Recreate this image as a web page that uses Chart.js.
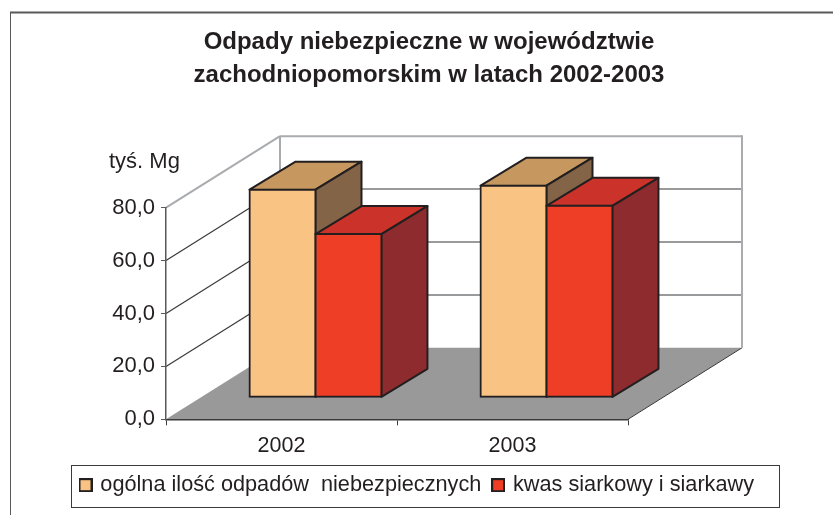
<!DOCTYPE html>
<html><head><meta charset="utf-8">
<style>html,body{margin:0;padding:0;background:#fff}#w{width:833px;height:515px;position:relative}</style>
<script src="https://cdn.jsdelivr.net/npm/chart.js@4/dist/chart.umd.min.js"></script>
</head><body><div id="w"><canvas id="c" width="833" height="515"></canvas></div>
<script>
const categories = ['2002', '2003'];
const totalHazardous = [78.5, 80.0];
const sulfuricAcid = [61.7, 72.4];
const seriesNames = ['ogólna ilość odpadów  niebezpiecznych', 'kwas siarkowy i siarkawy'];
const titleLines = ['Odpady niebezpieczne w województwie', 'zachodniopomorskim w latach 2002-2003'];
const unitLabel = 'tyś. Mg';

const FONT = '"Liberation Sans", Arial, sans-serif';
const INK = '#231f20';
const AREA = {left:166, right:628, top:207.7, bottom:419.3};
const WALL = {dx:114, dy:-71.5};
const BAR_OFF = {dx:34, dy:-22};
const BAR_DEPTH = {dx:46, dy:-28};
const FRONTS = ['#f8c383', '#ef3e26'];
const SHADES = [{top:'#c6975f', side:'#836446'}, {top:'#cb332a', side:'#8e2b2e'}];

function line(ctx, x1, y1, x2, y2, color, w){
  ctx.strokeStyle = color; ctx.lineWidth = w;
  ctx.beginPath(); ctx.moveTo(x1,y1); ctx.lineTo(x2,y2); ctx.stroke();
}
function poly(ctx, pts, fill){
  ctx.beginPath(); pts.forEach((p,i)=> i?ctx.lineTo(p[0],p[1]):ctx.moveTo(p[0],p[1])); ctx.closePath();
  ctx.fillStyle = fill; ctx.fill();
  ctx.strokeStyle = INK; ctx.lineWidth = 2; ctx.lineJoin = 'round'; ctx.stroke();
}
function swatch(color){
  const k = document.createElement('canvas'); k.width = 14; k.height = 14;
  const g = k.getContext('2d');
  g.fillStyle = color; g.fillRect(1,1,12,12);
  g.strokeStyle = INK; g.lineWidth = 2; g.strokeRect(1,1,12,12);
  return k;
}
const scene = {
  id:'scene',
  afterLayout(chart){
    const t = chart.titleBlock; t.left = 0; t.right = 858; t.width = 858;
    const l = chart.legend; l.left = 68.7; l.right = 779; l.width = 710.3;
    const h = l.height; l.top = 461.5; l.bottom = l.top + h;
  },
  beforeDraw(chart){
    const ctx = chart.ctx, y = chart.scales.y, x = chart.scales.x;
    ctx.save();
    ctx.fillStyle = '#fff'; ctx.fillRect(0,0,833,515);
    line(ctx, 10.5, 12, 10.5, 515, '#58595b', 1);
    line(ctx, 10, 12.5, 833, 12.5, '#58595b', 2);
    ctx.strokeStyle = '#3a3a3c'; ctx.lineWidth = 1;
    ctx.strokeRect(71.5, 465.5, 708, 42);
    const l = x.left, r = x.right, b = y.getPixelForValue(0), {dx, dy} = WALL;
    ctx.beginPath(); ctx.moveTo(l,b); ctx.lineTo(r,b); ctx.lineTo(r+dx,b+dy); ctx.lineTo(l+dx,b+dy); ctx.closePath();
    ctx.fillStyle = '#999999'; ctx.fill();
    line(ctx, r, b, r+dx, b+dy, '#3a3a3c', 1);
    y.ticks.forEach(t=>{
      const py = y.getPixelForValue(t.value);
      if (t.value === 0) return;
      const top = t.value === y.max;
      line(ctx, l, py, l+dx, py+dy, top?'#a9abae':'#3a3a3c', top?2:1.2);
      line(ctx, l+dx, py+dy, r+dx, py+dy, top?'#a9abae':'#77787b', top?2:1.5);
    });
    line(ctx, l+dx, y.getPixelForValue(y.max)+dy, l+dx, b+dy, '#a9abae', 2);
    line(ctx, r+dx, y.getPixelForValue(y.max)+dy-1, r+dx, b+dy, '#a9abae', 2);
    ctx.fillStyle = INK; ctx.font = '22px '+FONT; ctx.textAlign = 'left'; ctx.textBaseline = 'middle';
    ctx.fillText(unitLabel, 109, 162);
    ctx.restore();
  },
  beforeDatasetDraw(){ return false; },
  afterDatasetsDraw(chart){
    const ctx = chart.ctx;
    [0,1].forEach(i=>{
      const meta = chart.getDatasetMeta(i);
      ctx.save();
      meta.data.forEach(el=>{
        const a = el.x - el.width/2 + BAR_OFF.dx, c = el.x + el.width/2 + BAR_OFF.dx;
        const t = el.y + BAR_OFF.dy, b = el.base + BAR_OFF.dy, {dx, dy} = BAR_DEPTH;
        poly(ctx, [[a,t],[c,t],[c+dx,t+dy],[a+dx,t+dy]], SHADES[i].top);
        poly(ctx, [[c,t],[c+dx,t+dy],[c+dx,b+dy],[c,b]], SHADES[i].side);
      });
      ctx.translate(BAR_OFF.dx, BAR_OFF.dy);
      meta.controller.draw();
      ctx.restore();
    });
  }
};
new Chart(document.getElementById('c'), {
  type:'bar',
  data:{labels:categories, datasets:[
    {label:seriesNames[0], data:totalHazardous, backgroundColor:FRONTS[0], borderColor:INK, borderWidth:2, borderSkipped:false, inflateAmount:1},
    {label:seriesNames[1], data:sulfuricAcid, backgroundColor:FRONTS[1], borderColor:INK, borderWidth:2, borderSkipped:false, inflateAmount:1}
  ]},
  plugins:[scene],
  options:{
    responsive:false, animation:false,
    categoryPercentage:0.571, barPercentage:1,
    layout:{padding:0},
    plugins:{
      tooltip:{enabled:false},
      title:{display:true, text:titleLines, color:INK,
        font:{family:FONT, size:24, weight:'bold', lineHeight:'33px'},
        padding:{top:26, bottom:AREA.top-26-66}},
      legend:{display:true, position:'bottom', align:'start',
        labels:{color:INK, font:{family:FONT, size:21.7}, usePointStyle:true, pointStyleWidth:8, boxHeight:13, padding:12.8,
          generateLabels(chart){
            return Chart.defaults.plugins.legend.labels.generateLabels(chart).map((it,i)=>({...it, pointStyle:swatch(FRONTS[i])}));
          }}}
    },
    scales:{
      x:{offset:true,
        grid:{drawOnChartArea:false, drawTicks:true, tickLength:6, color:'#3a3a3c', offset:true},
        border:{color:'#3a3a3c', width:1.5},
        ticks:{color:INK, font:{family:FONT, size:21.5}, padding:8, maxRotation:0},
        afterFit(s){ s.height = 515 - AREA.bottom - s.chart.legend.height; }},
      y:{min:0, max:80, position:'left',
        grid:{drawOnChartArea:false, drawTicks:true, tickLength:5, color:'#58595b'},
        border:{color:'#58595b', width:1.5},
        ticks:{stepSize:20, color:INK, font:{family:FONT, size:22}, padding:6,
          callback:v=>v.toFixed(1).replace('.',',')},
        afterFit(s){ s.width = AREA.left; }},
      pad:{axis:'y', position:'right', min:0, max:80,
        grid:{display:false}, border:{display:false}, ticks:{display:false},
        afterFit(s){ s.width = 833 - AREA.right; }}
    }
  }
});
</script></body></html>
